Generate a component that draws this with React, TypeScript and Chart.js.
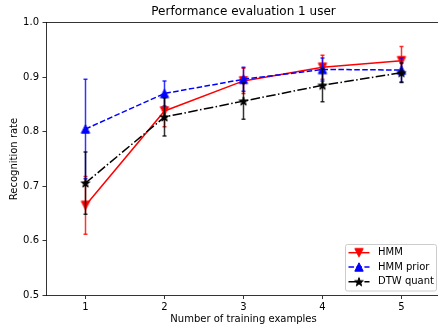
import React, { useEffect, useRef } from "react";
import { Chart, registerables } from "chart.js";
Chart.register(...registerables);

const xValues = [1, 2, 3, 4, 5];
const hmm = [0.665, 0.838, 0.893, 0.918, 0.93];
const hmmErr = [0.053, 0.029, 0.023, 0.022, 0.026];
const hmmPrior = [0.805, 0.87, 0.896, 0.914, 0.913];
const hmmPriorErr = [0.091, 0.023, 0.022, 0.021, 0.022];
const dtwQuant = [0.706, 0.827, 0.856, 0.885, 0.908];
const dtwQuantErr = [0.057, 0.035, 0.033, 0.03, 0.018];
const seriesLabels = ["HMM", "HMM prior", "DTW quant"];
const titleText = "Performance evaluation 1 user";
const xTitle = "Number of training examples";
const yTitle = "Recognition rate";

const FONT = "DejaVu Sans";

function makeMarker(kind: string, color: string): HTMLCanvasElement {
  const c = document.createElement("canvas");
  c.width = 12;
  c.height = 12;
  const ctx = c.getContext("2d")!;
  ctx.fillStyle = color;
  ctx.strokeStyle = color;
  ctx.lineWidth = 1;
  ctx.lineJoin = "miter";
  const cx = 6, cy = 6;
  ctx.beginPath();
  if (kind === "down") {
    const h = 4.2;
    ctx.moveTo(cx - h, cy - h);
    ctx.lineTo(cx + h, cy - h);
    ctx.lineTo(cx, cy + h);
  } else if (kind === "up") {
    const h = 4.2;
    ctx.moveTo(cx - h, cy + h);
    ctx.lineTo(cx + h, cy + h);
    ctx.lineTo(cx, cy - h);
  } else {
    const R = 4.6, r = R * 0.381966;
    for (let i = 0; i < 10; i++) {
      const rad = i % 2 === 0 ? R : r;
      const a = (Math.PI / 5) * i;
      const px = cx + Math.sin(a) * rad;
      const py = cy + 0.4 - Math.cos(a) * rad;
      if (i === 0) ctx.moveTo(px, py);
      else ctx.lineTo(px, py);
    }
  }
  ctx.closePath();
  ctx.fill();
  ctx.stroke();
  return c;
}

export default function App() {
  const ref = useRef<HTMLCanvasElement | null>(null);
  useEffect(() => {
    const canvas = ref.current!;
    const mRed = makeMarker("down", "#ff0000");
    const mBlue = makeMarker("up", "#0000ff");
    const mBlack = makeMarker("star", "#000000");

    const seriesStyles = [
      { color: "#ff0000", err: "rgba(255,0,0,0.8)", dash: [] as number[], marker: mRed },
      { color: "#0000ff", err: "rgba(0,0,255,0.8)", dash: [5.55, 2.4], marker: mBlue },
      { color: "#000000", err: "rgba(0,0,0,0.8)", dash: [9.6, 2.4, 1.5, 2.4], marker: mBlack },
    ];
    const values = [hmm, hmmPrior, dtwQuant];
    const errs = [hmmErr, hmmPriorErr, dtwQuantErr];

    const errorPlugin = {
      id: "errbars",
      beforeDatasetDraw(chart: any, args: any) {
        const i = args.index;
        const ctx = chart.ctx;
        const ys = chart.scales.y;
        const xs = chart.scales.x;
        ctx.save();
        ctx.strokeStyle = seriesStyles[i].err;
        ctx.lineWidth = 1.5;
        ctx.setLineDash([]);
        xValues.forEach((xv, k) => {
          const px = xs.getPixelForValue(xv);
          const lo = ys.getPixelForValue(values[i][k] - errs[i][k]);
          const hi = ys.getPixelForValue(values[i][k] + errs[i][k]);
          ctx.beginPath();
          ctx.moveTo(px, lo);
          ctx.lineTo(px, hi);
          ctx.stroke();
          ctx.beginPath();
          ctx.moveTo(px - 2, lo);
          ctx.lineTo(px + 2, lo);
          ctx.moveTo(px - 2, hi);
          ctx.lineTo(px + 2, hi);
          ctx.stroke();
        });
        ctx.restore();
      },
    };

    const decorPlugin = {
      id: "decor",
      afterDraw(chart: any) {
        const ctx = chart.ctx;
        const a = chart.chartArea;
        ctx.save();
        ctx.strokeStyle = "#000";
        ctx.lineWidth = 0.8;
        ctx.beginPath();
        ctx.moveTo(a.left, a.top);
        ctx.lineTo(a.right, a.top);
        ctx.stroke();

        ctx.fillStyle = "#000";
        ctx.textAlign = "center";
        ctx.textBaseline = "middle";
        ctx.font = `12px "${FONT}"`;
        ctx.fillText(titleText, (a.left + a.right) / 2, 12);
        ctx.font = `10px "${FONT}"`;
        ctx.fillText(xTitle, (a.left + a.right) / 2, 319.5);
        ctx.save();
        ctx.translate(14, (a.top + a.bottom) / 2);
        ctx.rotate(-Math.PI / 2);
        ctx.fillText(yTitle, 0, 0);
        ctx.restore();

        // legend
        const bx = 345.5, by = 244.5, bw = 91, bh = 46.5;
        ctx.beginPath();
        ctx.roundRect(bx, by, bw, bh, 2);
        ctx.fillStyle = "rgba(255,255,255,0.8)";
        ctx.fill();
        ctx.strokeStyle = "#cccccc";
        ctx.lineWidth = 1;
        ctx.stroke();
        const rows = [252.7, 267, 281.7];
        seriesLabels.forEach((lab, i) => {
          const st = seriesStyles[i];
          const y = rows[i];
          ctx.strokeStyle = st.color;
          ctx.lineWidth = 1.5;
          ctx.setLineDash(st.dash);
          ctx.beginPath();
          ctx.moveTo(348.5, y);
          ctx.lineTo(369.5, y);
          ctx.stroke();
          ctx.setLineDash([]);
          ctx.drawImage(st.marker, 359 - 6, y - 6);
          ctx.fillStyle = "#000";
          ctx.textAlign = "left";
          ctx.textBaseline = "middle";
          ctx.font = `10px "${FONT}"`;
          ctx.fillText(lab, 378, y);
        });
        ctx.restore();
      },
    };

    const axisCommon = {
      grid: { drawOnChartArea: false, drawTicks: true, tickLength: 3.5, color: "#000", lineWidth: 0.8 },
      border: { display: true, color: "#000", width: 0.8 },
    };

    const chart = new Chart(canvas, {
      type: "line",
      data: {
        datasets: seriesLabels.map((lab, i) => ({
          label: lab,
          data: xValues.map((x, k) => ({ x, y: values[i][k] })),
          borderColor: seriesStyles[i].color,
          backgroundColor: seriesStyles[i].color,
          borderWidth: 1.5,
          borderDash: seriesStyles[i].dash,
          pointStyle: seriesStyles[i].marker as any,
          pointRadius: 5,
          tension: 0,
          order: 3 - i,
          clip: false as any,
        })),
      },
      options: {
        responsive: false,
        animation: false,
        layout: { padding: { left: 0, top: 22.5, right: 9, bottom: 0 } },
        plugins: { legend: { display: false }, tooltip: { enabled: false }, title: { display: false } },
        scales: {
          x: {
            type: "linear",
            min: 0.5,
            max: 5.5,
            ...axisCommon,
            afterBuildTicks: (s: any) => {
              s.ticks = xValues.map((v) => ({ value: v }));
            },
            afterFit: (s: any) => {
              s.height = 29.5;
            },
            ticks: {
              font: { family: FONT, size: 10 },
              color: "#000",
              padding: 2,
              maxRotation: 0,
              autoSkip: false,
              callback: (v: any) => String(v),
            },
          },
          y: {
            type: "linear",
            min: 0.5,
            max: 1.0,
            ...axisCommon,
            afterFit: (s: any) => {
              s.width = 46;
            },
            ticks: {
              stepSize: 0.1,
              font: { family: FONT, size: 10 },
              color: "#000",
              padding: 3.5,
              callback: (v: any) => Number(v).toFixed(1),
            },
          },
        },
      } as any,
      plugins: [errorPlugin, decorPlugin],
    });
    return () => chart.destroy();
  }, []);

  return (
    <div style={{ position: "fixed", left: 0, top: 0, width: 438, height: 325, overflow: "hidden", background: "#fff" }}>
      <div style={{ position: "relative", width: 450, height: 325 }}>
        <canvas ref={ref} width={450} height={325} style={{ display: "block", width: 450, height: 325 }} />
      </div>
    </div>
  );
}
